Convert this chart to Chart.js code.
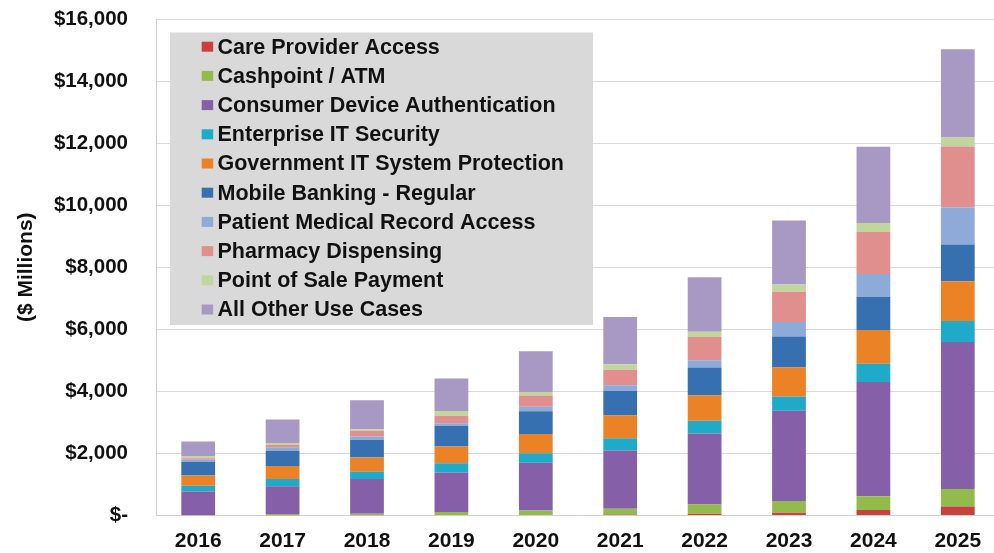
<!DOCTYPE html>
<html><head><meta charset="utf-8">
<script src="https://cdn.jsdelivr.net/npm/chart.js@4/dist/chart.umd.min.js"></script>
<style>
html,body{margin:0;padding:0;overflow:hidden;background:#fff;}
#wrap{position:relative;width:1000px;height:553px;}
</style></head><body>
<div id="wrap"><canvas id="c"></canvas></div>
<script>
const years = ['2016','2017','2018','2019','2020','2021','2022','2023','2024','2025'];
const yTickLabels = ['$-','$2,000','$4,000','$6,000','$8,000','$10,000','$12,000','$14,000','$16,000'];
const yTitle = '($ Millions)';

const careProviderAccess       = [5, 8, 10, 15, 20, 30, 55, 90, 180, 290];
const cashpointATM             = [10, 40, 50, 95, 145, 187, 298, 374, 440, 568];
const consumerDeviceAuth       = [761, 892, 1120, 1278, 1537, 1875, 2292, 2914, 3684, 4734];
const enterpriseITSecurity     = [186, 240, 230, 292, 303, 401, 407, 460, 589, 674];
const governmentITProtection   = [328, 416, 459, 542, 618, 726, 825, 932, 1082, 1286];
const mobileBankingRegular     = [437, 492, 568, 672, 737, 792, 889, 996, 1071, 1178];
const patientMedicalRecord     = [66, 98, 110, 80, 141, 184, 236, 471, 739, 1199];
const pharmacyDispensing       = [54, 87, 175, 230, 369, 499, 749, 975, 1350, 1960];
const pointOfSalePayment       = [55, 66, 60, 162, 108, 184, 172, 235, 289, 289];
const allOtherUseCases         = [481, 754, 929, 1052, 1312, 1518, 1756, 2057, 2463, 2849];

const seriesNames = ['Care Provider Access','Cashpoint / ATM','Consumer Device Authentication','Enterprise IT Security','Government IT System Protection','Mobile Banking - Regular','Patient Medical Record Access','Pharmacy Dispensing','Point of Sale Payment','All Other Use Cases'];
const seriesValues = [careProviderAccess, cashpointATM, consumerDeviceAuth, enterpriseITSecurity, governmentITProtection, mobileBankingRegular, patientMedicalRecord, pharmacyDispensing, pointOfSalePayment, allOtherUseCases];
const seriesColors = ['#c8413d','#93bb4c','#8560a8','#1eaac8','#ec8226','#3670b0','#8eaad8','#e08e8e','#c0d69c','#a898c4'];

const FONT = "'Liberation Sans', Arial, sans-serif";

const legendPlugin = {
  id: 'boxLegend',
  afterDraw(chart) {
    const ctx = chart.ctx;
    ctx.save();
    ctx.fillStyle = '#d9d9d9';
    ctx.fillRect(170, 32.5, 423, 292.5);
    ctx.font = "bold 21.5px " + FONT;
    ctx.textBaseline = 'middle';
    ctx.textAlign = 'left';
    chart.data.datasets.forEach((ds, i) => {
      const cy = 46.7 + i * 29.2;
      ctx.fillStyle = ds.backgroundColor;
      ctx.fillRect(201.7, cy - 5, 11.5, 10);
      ctx.fillStyle = '#111';
      ctx.fillText(ds.label, 217.5, cy + 1);
    });
    ctx.restore();
  }
};

new Chart(document.getElementById('c'), {
  type: 'bar',
  data: {
    labels: years,
    datasets: seriesNames.map((n, i) => ({
      label: n, data: seriesValues[i], backgroundColor: seriesColors[i], borderWidth: 0
    }))
  },
  options: {
    responsive: true, maintainAspectRatio: false, animation: false,
    layout: { padding: { top: 19, left: 0, right: 0, bottom: 0 } },
    datasets: { bar: { categoryPercentage: 1, barPercentage: 0.4 } },
    plugins: { legend: { display: false }, tooltip: { enabled: false } },
    scales: {
      x: {
        stacked: true,
        grid: { display: false, drawTicks: false },
        border: { color: '#d0d0d0' },
        ticks: { color: '#111', font: { family: FONT, weight: 'bold', size: 21 }, padding: 13, maxRotation: 0 },
        afterFit(s) { s.height = 37.5; s.paddingLeft = 0; s.paddingRight = 0; }
      },
      y: {
        stacked: true, min: 0, max: 16000,
        grid: { color: '#d9d9d9', drawTicks: false },
        border: { color: '#d0d0d0' },
        ticks: {
          stepSize: 2000, color: '#111', padding: 28,
          font: { family: FONT, weight: 'bold', size: 20.5 },
          callback: (v, i) => yTickLabels[i]
        },
        title: { display: true, text: yTitle, color: '#111', font: { family: FONT, weight: 'bold', size: 21 }, padding: { top: 14 } },
        afterFit(s) { s.width = 156; s.paddingTop = 0; s.paddingBottom = 0; }
      }
    }
  },
  plugins: [legendPlugin]
});
</script>
</body></html>
